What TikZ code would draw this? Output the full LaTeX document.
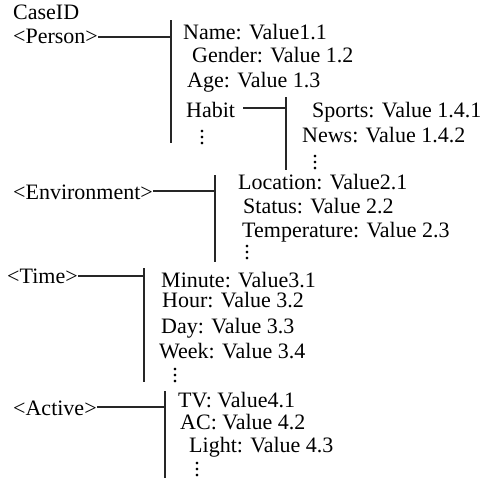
\documentclass[tikz,border=0pt]{standalone}
\usepackage{fontspec}
\setmainfont{Liberation Serif}
\usepackage{tikz}

\newcommand{\vdotz}{\vbox{\baselineskip=6pt \lineskiplimit=0pt \hbox{.}\hbox{.}\hbox{.}}}

\begin{document}
\begin{tikzpicture}[x=1pt,y=-1pt]

\tikzset{item/.style = {inner sep=0pt, anchor=base west, font=\fontsize{22}{26}\selectfont}}
\tikzset{more/.style = {inner sep=0pt, font=\fontsize{22}{26}\selectfont}}
\tikzset{bar/.style = {line width=1.2pt, black!85}}

\useasboundingbox (0,0) rectangle (483,485);

% categories
\node[item] (id) at (13,19) {CaseID};
\node[item] (p) at (13,43) {<Person>};
\node[item] (e) at (13,199) {<Environment>};
\node[item] (t) at (7,283) {<Time>};
\node[item] (a) at (13,415) {<Active>};

% values
\node[item] (p1) at (183,39) {Name: Value1.1};
\node[item] (p2) at (192,62) {Gender: Value 1.2};
\node[item] (p3) at (187,87) {Age: Value 1.3};
\node[item] (p4) at (186,117) {Habit};
\node[more] (p5) at (202,138) {\vdotz};
\node[item] (h1) at (312,117) {Sports: Value 1.4.1};
\node[item] (h2) at (302,142) {News: Value 1.4.2};
\node[more] (h3) at (315,163) {\vdotz};

\node[item] (e1) at (238,189) {Location: Value2.1};
\node[item] (e2) at (243,213) {Status: Value 2.2};
\node[item] (e3) at (242,237) {Temperature: Value 2.3};
\node[more] (e4) at (247,253) {\vdotz};

\node[item] (t1) at (161,287) {Minute: Value3.1};
\node[item] (t2) at (162,307) {Hour: Value 3.2};
\node[item] (t3) at (161,333) {Day: Value 3.3};
\node[item] (t4) at (159,358) {Week: Value 3.4};
\node[more] (t5) at (175,376) {\vdotz};

\node[item] (a1) at (178,407) {TV: Value4.1};
\node[item] (a2) at (180,429) {AC: Value 4.2};
\node[item] (a3) at (189,452) {Light: Value 4.3};
\node[more] (a4) at (197,470) {\vdotz};

% bars
\coordinate (pt) at (171,20);
\coordinate (pm) at (171,37);
\coordinate (pb) at (171,143);
\coordinate (ht) at (286,97);
\coordinate (hm) at (286,108);
\coordinate (hb) at (286,170);
\coordinate (et) at (215,175);
\coordinate (em) at (215,191);
\coordinate (eb) at (215,262);
\coordinate (tt) at (144,268);
\coordinate (tm) at (144,276);
\coordinate (tb) at (144,382);
\coordinate (at) at (165,391);
\coordinate (am) at (165,407);
\coordinate (ab) at (165,478);

\draw[bar] (pt) -- (pb);
\draw[bar] (ht) -- (hb);
\draw[bar] (et) -- (eb);
\draw[bar] (tt) -- (tb);
\draw[bar] (at) -- (ab);

% links
\draw[bar] (p.east |- pm) to (pm);
\draw[bar, shorten <=8pt] (p4.east |- hm) to (hm);
\draw[bar] (e.east |- em) to (em);
\draw[bar] (t.east |- tm) to (tm);
\draw[bar] (a.east |- am) to (am);

\end{tikzpicture}
\end{document}
